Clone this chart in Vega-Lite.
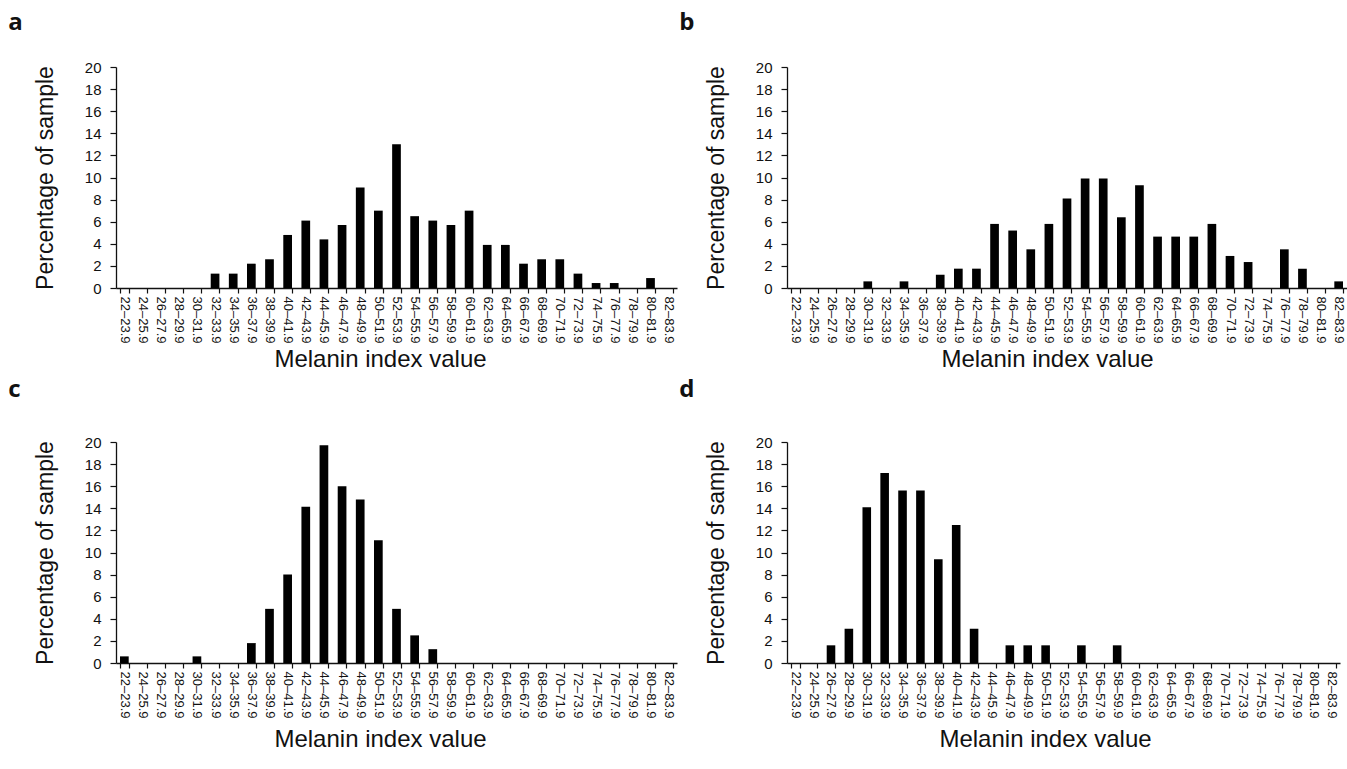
{
  "$schema": "https://vega.github.io/schema/vega-lite/v6.json",
  "background": "white",
  "padding": {"left": 8, "top": 11, "right": 0, "bottom": 0},
  "datasets": {
    "a": [
      {"bin": "22–23.9", "pct": 0}, {"bin": "24–25.9", "pct": 0}, {"bin": "26–27.9", "pct": 0}, {"bin": "28–29.9", "pct": 0},
      {"bin": "30–31.9", "pct": 0}, {"bin": "32–33.9", "pct": 1.3}, {"bin": "34–35.9", "pct": 1.3}, {"bin": "36–37.9", "pct": 2.2},
      {"bin": "38–39.9", "pct": 2.6}, {"bin": "40–41.9", "pct": 4.8}, {"bin": "42–43.9", "pct": 6.1}, {"bin": "44–45.9", "pct": 4.4},
      {"bin": "46–47.9", "pct": 5.7}, {"bin": "48–49.9", "pct": 9.1}, {"bin": "50–51.9", "pct": 7.0}, {"bin": "52–53.9", "pct": 13.0},
      {"bin": "54–55.9", "pct": 6.5}, {"bin": "56–57.9", "pct": 6.1}, {"bin": "58–59.9", "pct": 5.7}, {"bin": "60–61.9", "pct": 7.0},
      {"bin": "62–63.9", "pct": 3.9}, {"bin": "64–65.9", "pct": 3.9}, {"bin": "66–67.9", "pct": 2.2}, {"bin": "68–69.9", "pct": 2.6},
      {"bin": "70–71.9", "pct": 2.6}, {"bin": "72–73.9", "pct": 1.3}, {"bin": "74–75.9", "pct": 0.45}, {"bin": "76–77.9", "pct": 0.45},
      {"bin": "78–79.9", "pct": 0}, {"bin": "80–81.9", "pct": 0.9}, {"bin": "82–83.9", "pct": 0}
    ],
    "b": [
      {"bin": "22–23.9", "pct": 0}, {"bin": "24–25.9", "pct": 0}, {"bin": "26–27.9", "pct": 0}, {"bin": "28–29.9", "pct": 0},
      {"bin": "30–31.9", "pct": 0.6}, {"bin": "32–33.9", "pct": 0}, {"bin": "34–35.9", "pct": 0.6}, {"bin": "36–37.9", "pct": 0},
      {"bin": "38–39.9", "pct": 1.2}, {"bin": "40–41.9", "pct": 1.75}, {"bin": "42–43.9", "pct": 1.75}, {"bin": "44–45.9", "pct": 5.8},
      {"bin": "46–47.9", "pct": 5.2}, {"bin": "48–49.9", "pct": 3.5}, {"bin": "50–51.9", "pct": 5.8}, {"bin": "52–53.9", "pct": 8.1},
      {"bin": "54–55.9", "pct": 9.9}, {"bin": "56–57.9", "pct": 9.9}, {"bin": "58–59.9", "pct": 6.4}, {"bin": "60–61.9", "pct": 9.3},
      {"bin": "62–63.9", "pct": 4.65}, {"bin": "64–65.9", "pct": 4.65}, {"bin": "66–67.9", "pct": 4.65}, {"bin": "68–69.9", "pct": 5.8},
      {"bin": "70–71.9", "pct": 2.9}, {"bin": "72–73.9", "pct": 2.35}, {"bin": "74–75.9", "pct": 0}, {"bin": "76–77.9", "pct": 3.5},
      {"bin": "78–79.9", "pct": 1.75}, {"bin": "80–81.9", "pct": 0}, {"bin": "82–83.9", "pct": 0.6}
    ],
    "c": [
      {"bin": "22–23.9", "pct": 0.6}, {"bin": "24–25.9", "pct": 0}, {"bin": "26–27.9", "pct": 0}, {"bin": "28–29.9", "pct": 0},
      {"bin": "30–31.9", "pct": 0.6}, {"bin": "32–33.9", "pct": 0}, {"bin": "34–35.9", "pct": 0}, {"bin": "36–37.9", "pct": 1.8},
      {"bin": "38–39.9", "pct": 4.9}, {"bin": "40–41.9", "pct": 8.0}, {"bin": "42–43.9", "pct": 14.15}, {"bin": "44–45.9", "pct": 19.7},
      {"bin": "46–47.9", "pct": 16.0}, {"bin": "48–49.9", "pct": 14.8}, {"bin": "50–51.9", "pct": 11.1}, {"bin": "52–53.9", "pct": 4.9},
      {"bin": "54–55.9", "pct": 2.5}, {"bin": "56–57.9", "pct": 1.25}, {"bin": "58–59.9", "pct": 0}, {"bin": "60–61.9", "pct": 0},
      {"bin": "62–63.9", "pct": 0}, {"bin": "64–65.9", "pct": 0}, {"bin": "66–67.9", "pct": 0}, {"bin": "68–69.9", "pct": 0},
      {"bin": "70–71.9", "pct": 0}, {"bin": "72–73.9", "pct": 0}, {"bin": "74–75.9", "pct": 0}, {"bin": "76–77.9", "pct": 0},
      {"bin": "78–79.9", "pct": 0}, {"bin": "80–81.9", "pct": 0}, {"bin": "82–83.9", "pct": 0}
    ],
    "d": [
      {"bin": "22–23.9", "pct": 0}, {"bin": "24–25.9", "pct": 0}, {"bin": "26–27.9", "pct": 1.6}, {"bin": "28–29.9", "pct": 3.1},
      {"bin": "30–31.9", "pct": 14.1}, {"bin": "32–33.9", "pct": 17.2}, {"bin": "34–35.9", "pct": 15.6}, {"bin": "36–37.9", "pct": 15.6},
      {"bin": "38–39.9", "pct": 9.4}, {"bin": "40–41.9", "pct": 12.5}, {"bin": "42–43.9", "pct": 3.1}, {"bin": "44–45.9", "pct": 0},
      {"bin": "46–47.9", "pct": 1.6}, {"bin": "48–49.9", "pct": 1.6}, {"bin": "50–51.9", "pct": 1.6}, {"bin": "52–53.9", "pct": 0},
      {"bin": "54–55.9", "pct": 1.6}, {"bin": "56–57.9", "pct": 0}, {"bin": "58–59.9", "pct": 1.6}, {"bin": "60–61.9", "pct": 0},
      {"bin": "62–63.9", "pct": 0}, {"bin": "64–65.9", "pct": 0}, {"bin": "66–67.9", "pct": 0}, {"bin": "68–69.9", "pct": 0},
      {"bin": "70–71.9", "pct": 0}, {"bin": "72–73.9", "pct": 0}, {"bin": "74–75.9", "pct": 0}, {"bin": "76–77.9", "pct": 0},
      {"bin": "78–79.9", "pct": 0}, {"bin": "80–81.9", "pct": 0}, {"bin": "82–83.9", "pct": 0}
    ]
  },
  "columns": 2,
  "spacing": {"row": 6, "column": 2},
  "concat": [
    {
      "title": {"text": "a", "offset": 25},
      "width": 561, "height": 221,
      "data": {"name": "a"},
      "mark": {"type": "bar", "color": "black"},
      "encoding": {
        "x": {"field": "bin", "type": "nominal", "sort": null, "title": "Melanin index value", "scale": {"paddingInner": 0.52, "paddingOuter": 0.22}, "axis": {"titleX": 264, "titlePadding": 5}},
        "y": {"field": "pct", "type": "quantitative", "title": "Percentage of sample", "scale": {"domain": [0, 20]}, "axis": {"values": [0, 2, 4, 6, 8, 10, 12, 14, 16, 18, 20]}}
      }
    },
    {
      "title": {"text": "b", "offset": 25},
      "width": 560, "height": 221,
      "data": {"name": "b"},
      "mark": {"type": "bar", "color": "black"},
      "encoding": {
        "x": {"field": "bin", "type": "nominal", "sort": null, "title": "Melanin index value", "scale": {"paddingInner": 0.52, "paddingOuter": 0.22}, "axis": {"titleX": 260, "titlePadding": 5}},
        "y": {"field": "pct", "type": "quantitative", "title": "Percentage of sample", "scale": {"domain": [0, 20]}, "axis": {"values": [0, 2, 4, 6, 8, 10, 12, 14, 16, 18, 20]}}
      }
    },
    {
      "title": {"text": "c", "offset": 33},
      "width": 561, "height": 221,
      "data": {"name": "c"},
      "mark": {"type": "bar", "color": "black"},
      "encoding": {
        "x": {"field": "bin", "type": "nominal", "sort": null, "title": "Melanin index value", "scale": {"paddingInner": 0.52, "paddingOuter": 0.22}, "axis": {"titleX": 264, "titlePadding": 10}},
        "y": {"field": "pct", "type": "quantitative", "title": "Percentage of sample", "scale": {"domain": [0, 20]}, "axis": {"values": [0, 2, 4, 6, 8, 10, 12, 14, 16, 18, 20]}}
      }
    },
    {
      "title": {"text": "d", "offset": 33},
      "width": 553, "height": 221,
      "data": {"name": "d"},
      "mark": {"type": "bar", "color": "black"},
      "encoding": {
        "x": {"field": "bin", "type": "nominal", "sort": null, "title": "Melanin index value", "scale": {"paddingInner": 0.52, "paddingOuter": 0.22}, "axis": {"titleX": 258, "titlePadding": 10}},
        "y": {"field": "pct", "type": "quantitative", "title": "Percentage of sample", "scale": {"domain": [0, 20]}, "axis": {"values": [0, 2, 4, 6, 8, 10, 12, 14, 16, 18, 20]}}
      }
    }
  ],
  "config": {
    "view": {"stroke": null},
    "title": {"anchor": "start", "frame": "bounds", "fontSize": 24, "fontWeight": "bold", "font": "Open Sans", "color": "#111", "dx": -26},
    "axis": {
      "grid": false, "domainColor": "#111", "tickColor": "#111", "labelColor": "#111", "titleColor": "#111",
      "labelFont": "Liberation Sans", "titleFont": "Liberation Sans", "titleFontWeight": "normal",
      "domainWidth": 1.3, "tickWidth": 1.2
    },
    "axisX": {"labelAngle": 90, "labelAlign": "left", "labelBaseline": "middle", "labelFontSize": 13, "labelPadding": 3, "tickSize": 5, "tickBand": "extent", "titleFontSize": 24},
    "axisY": {"labelFontSize": 15, "labelPadding": 9, "tickSize": 6, "titleFontSize": 23, "titlePadding": 27}
  }
}
